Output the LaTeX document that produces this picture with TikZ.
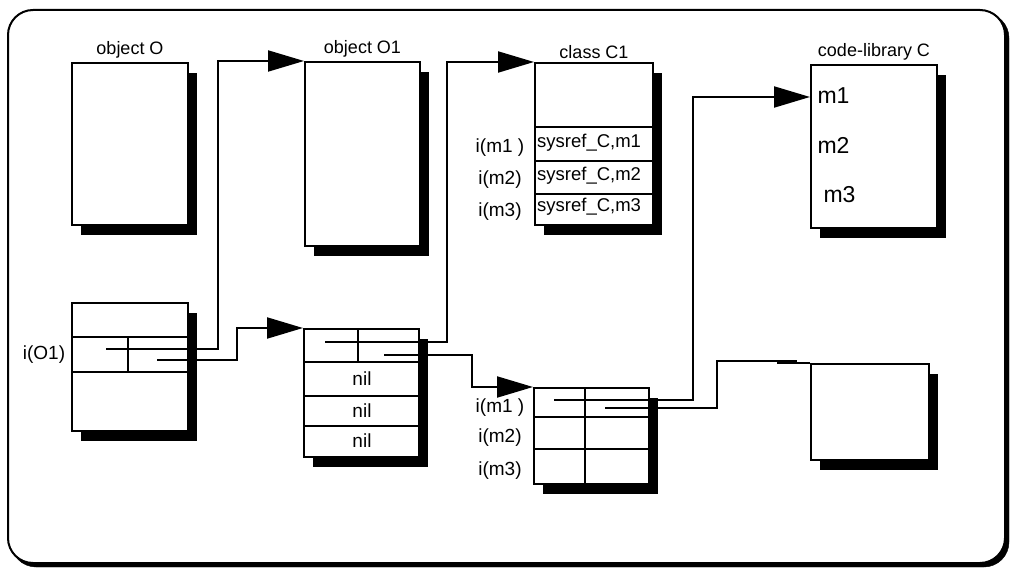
\documentclass[tikz,border=0pt]{standalone}
\usepackage{fontspec}
\setmainfont{Liberation Sans}
\usetikzlibrary{arrows.meta,positioning,calc,shadows}

\tikzset{
  box/.style={draw, line width=2pt, fill=white, inner sep=0pt,
    drop shadow={shadow xshift=9pt, shadow yshift=-10pt, fill=black, opacity=1}},
  rule/.style={line width=2pt},
  wire/.style={line width=2pt},
  ptr/.style={line width=2pt, -{Triangle[length=36pt, width=21pt]}},
  title/.style={font=\fontsize{18}{21}\selectfont},
  idx/.style={font=\fontsize{19}{22}\selectfont},
  slot/.style={font=\fontsize{18.5}{22}\selectfont, anchor=west, inner sep=2pt},
  meth/.style={font=\fontsize{23}{27}\selectfont, anchor=west}
}

\begin{document}
\begin{tikzpicture}[x=1pt, y=-1pt]
    \useasboundingbox (0,0) rectangle (1015,569);
    % frame with its shadow
    \draw[fill=black, rounded corners=25pt] (11,13) rectangle (1009,567);
    \draw[line width=2pt, fill=white, rounded corners=25pt] (8,10) rectangle (1005,563);

    % upper row
    \node[box, minimum width=116pt, minimum height=162pt] (objO) at (130,144) {};
    \node[box, minimum width=115pt, minimum height=184pt] (objOone) at (362.5,154) {};
    \node[box, minimum width=118pt, minimum height=162pt] (classC) at (594,144) {};
    \node[box, minimum width=126pt, minimum height=163pt] (codelib) at (874,146.5) {};
    \node[title, above=0pt of objO] (tObjO) {object O};
    \node[title, above=0pt of objOone] (tObjOone) {object O1};
    \node[title, above=0pt of classC] (tClassC) {class C1};
    \node[title, above=0pt of codelib] (tCodelib) {code-library C};

    % lower row
    \node[box, minimum width=116pt, minimum height=128pt] (recO) at (130,367) {};
    \node[box, minimum width=115pt, minimum height=128pt] (recOone) at (361.5,393) {};
    \node[box, minimum width=115pt, minimum height=96pt] (mtab) at (591.5,436) {};
    \node[box, minimum width=118pt, minimum height=96pt] (target) at (870,412) {};

    % cells
    \draw[rule] (72,337) -- (188,337) (72,372) -- (188,372) (128,337) -- (128,372);
    \draw[rule] (304,362) -- (419,362) (304,396) -- (419,396) (304,426) -- (419,426)
                (358,329) -- (358,362);
    \draw[rule] (535,127) -- (653,127) (535,161) -- (653,161) (535,194) -- (653,194);
    \draw[rule] (534,417) -- (649,417) (534,449) -- (649,449) (585,388) -- (585,484);

    % texts
    \node[idx] (iOone) at (44,355) {i(O1)};
    \node[idx] (cmone) at (500,148) {i(m1 )};
    \node[idx] (cmtwo) at (500,180) {i(m2)};
    \node[idx] (cmthree) at (500,212) {i(m3)};
    \node[slot] (sone) at (535,143) {sysref\_C,m1};
    \node[slot] (stwo) at (535,176) {sysref\_C,m2};
    \node[slot] (sthree) at (535,207) {sysref\_C,m3};
    \node[idx] (nilone) at (362,379) {nil};
    \node[idx] (niltwo) at (362,411) {nil};
    \node[idx] (nilthree) at (362,441) {nil};
    \node[idx] (tmone) at (500,408) {i(m1 )};
    \node[idx] (tmtwo) at (500,438) {i(m2)};
    \node[idx] (tmthree) at (500,471) {i(m3)};
    \node[meth] (mone) at (814,96) {m1};
    \node[meth] (mtwo) at (814,145) {m2};
    \node[meth] (mthree) at (820,195) {m3};

    % pointers
    \coordinate (pObj) at (106,349);
    \coordinate (pCls) at (157,360);
    \coordinate (pOneA) at (325,342);
    \coordinate (pOneB) at (384,355);
    \coordinate (pMa) at (554,400);
    \coordinate (pMb) at (605,408);
    \coordinate (mIn) at ($(codelib.north west)+(0,33)$);
    \coordinate (stub) at (797,361);

    \draw[ptr] (pObj) -- ++(112,0) |- (objOone.north west);
    \draw[ptr] (pCls) -- ++(80,0) |- (recOone.north west);
    \draw[ptr] (pOneA) -- ++(122,0) |- (classC.north west);
    \draw[ptr] (pOneB) -- ++(88,0) |- (mtab.north west);
    \draw[ptr] (pMa) -- ++(139,0) |- (mIn);
    \draw[wire] (pMb) -- ++(112,0) |- (stub);
    \draw[wire] (target.north west) -- ++(-33,0);
\end{tikzpicture}
\end{document}
